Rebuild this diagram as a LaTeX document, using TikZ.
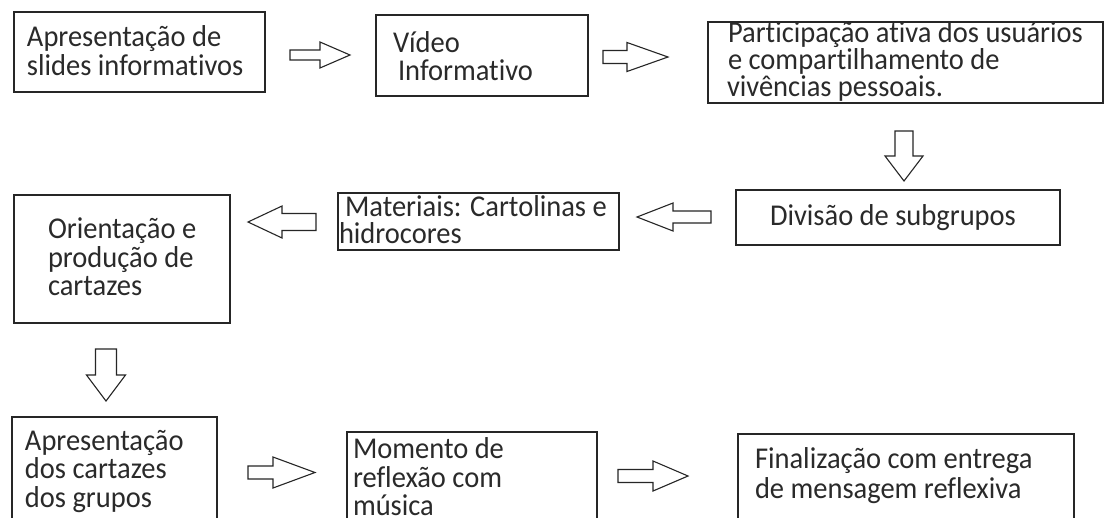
\documentclass[tikz,border=0pt]{standalone}
\usepackage{graphicx}
\usepackage{fontspec}
\setmainfont{Carlito}[Ligatures=CommonOff]
\definecolor{ink}{HTML}{2A2A2A}
\definecolor{edge}{HTML}{262626}
\newcommand\tline[3]{\kern#1pt\hbox to\bxw{\kern#2pt\smash{\scalebox{1}[1.06]{#3}}\hss}}
\newcommand\bxt[3]{\vbox to #2pt{\def\bxw{#1pt}\hsize=#1pt\baselineskip=0pt\lineskip=0pt\lineskiplimit=-\maxdimen #3\vfil}}
\newcommand\barr[6]{% tail coordinate, angle, length, shaft half width, head half width, head length
  \begin{scope}[shift={(#1)},rotate=#2]
    \draw[blockarr] (0,-#4) -- ({#3-#6},-#4) -- ({#3-#6},-#5) -- (#3,0) -- ({#3-#6},#5) -- ({#3-#6},#4) -- (0,#4) -- cycle;
  \end{scope}}
\tikzset{
  box/.style={draw=edge, line width=1.5pt, inner sep=0pt, outer sep=0pt, anchor=north west, text=ink, font=\fontsize{28.5}{29}\selectfont},
  blockarr/.style={draw=edge, line width=1.1pt, fill=white, line join=miter}
}
\begin{document}
\begin{tikzpicture}[x=1pt,y=-1pt]
\clip (0,0) rectangle (1105,517);
\fill[white] (0,0) rectangle (1105,517);
% boxes
\node[box] (b1) at (14,12) {\bxt{251}{80}{\tline{34}{13}{Apresentação de}\tline{29}{13}{slides informativos}}};
\node[box] (b2) at (376,15) {\bxt{212}{81}{\tline{37}{17}{Vídeo}\tline{28}{22}{Informativo}}};
\node[box] (b3) at (708,22) {\bxt{395}{81}{\tline{20}{20}{Participação ativa dos usuários}\tline{27.5}{20}{e compartilhamento de}\tline{27}{19}{vivências pessoais.}}};
\node[box] (b4) at (736,190) {\bxt{324}{55}{\tline{35}{34}{Divisão de subgrupos}}};
\node[box] (b5) at (338,193) {\bxt{281}{57}{\tline{23}{7}{Materiais: Cartolinas e}\tline{27}{1}{hidrocores}}};
\node[box] (b6) at (14,195) {\bxt{216}{128}{\tline{43}{34}{Orientação e}\tline{29.5}{34}{produção de}\tline{28}{34}{cartazes}}};
\node[box] (b7) at (12,417) {\bxt{205}{120}{\tline{33}{13}{Apresentação}\tline{28.5}{13}{dos cartazes}\tline{28.5}{13}{dos grupos}}};
\node[box] (b8) at (347,432) {\bxt{250}{110}{\tline{26}{6}{Momento de}\tline{29}{6}{reflexão com}\tline{28}{6}{música}}};
\node[box] (b9) at (738,434) {\bxt{336}{110}{\tline{34}{17}{Finalização com entrega}\tline{30}{17}{de mensagem reflexiva}}};
% arrow tails
\coordinate (a1) at (290,55);
\coordinate (a2) at (603,57);
\coordinate (a3) at (904,131);
\coordinate (a4) at (711,217);
\coordinate (a5) at (316,222);
\coordinate (a6) at (106,349);
\coordinate (a7) at (248,472.5);
\coordinate (a8) at (618,476);
\barr{a1}{0}{60}{5}{13}{30}
\barr{a2}{0}{65}{6.5}{14.5}{41}
\barr{a3}{-90}{50}{9}{19}{25}
\barr{a4}{180}{74}{6}{14}{36}
\barr{a5}{180}{68}{8.5}{16}{34}
\barr{a6}{-90}{52}{10.5}{19.5}{26}
\barr{a7}{0}{67}{6.5}{15.5}{42}
\barr{a8}{0}{70}{6.5}{15}{35}
\end{tikzpicture}
\end{document}
